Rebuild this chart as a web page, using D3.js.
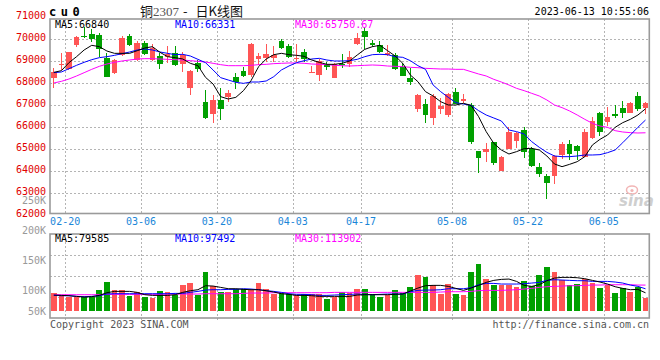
<!DOCTYPE html>
<html>
<head>
<meta charset="utf-8">
<script src="https://cdn.jsdelivr.net/npm/d3@7"></script>
<style>
  body { margin: 0; background: #fff; }
  svg { display: block; }
</style>
</head>
<body>
<div id="chart"></div>
<script>
// trading days shown on the chart
const dates = [
  "02-16","02-17","02-20","02-21","02-22","02-23","02-24","02-27","02-28","03-01",
  "03-02","03-03","03-06","03-07","03-08","03-09","03-10","03-13","03-14","03-15",
  "03-16","03-17","03-20","03-21","03-22","03-23","03-24","03-27","03-28","03-29",
  "03-30","03-31","04-03","04-04","04-06","04-07","04-10","04-11","04-12","04-13",
  "04-14","04-17","04-18","04-19","04-20","04-21","04-24","04-25","04-26","04-27",
  "04-28","05-04","05-05","05-08","05-09","05-10","05-11","05-12","05-15","05-16",
  "05-17","05-18","05-19","05-22","05-23","05-24","05-25","05-26","05-29","05-30",
  "05-31","06-01","06-02","06-05","06-06","06-07","06-08","06-09","06-12"
];

const open = [
  68256,68840,68635,69741,70150,70241,70195,69165,68453,69271,70150,69059,69816,69059,69241,69210,69362,68862,67771,68938,67150,66620,
  67241,67362,68302,68574,68377,69120,69135,69165,69922,69695,69089,69438,68498,68377,68832,68256,68877,68862,69786,70377,69847,69726,69301,69286,68756,68256,66832,67059,66408,
  66847,66559,67620,67211,67014,64923,64893,65332,64029,65029,65393,65877,64999,64211,63802,63787,64741,65241,65166,64635,65499,66665,66256,66604,66862,66665,67423,66862
];
const high = [
  68680,69362,69408,70150,70544,70453,70271,69362,69089,70165,70241,69907,69922,69786,69362,69695,69695,69438,68605,69059,67696,67453,
  67771,67696,68453,68756,69847,69392,69786,69695,70029,69786,69786,69574,68801,69104,68983,68938,69332,69453,70301,70574,69968,69938,69741,69362,68908,68680,67514,67287,67514,
  67317,67574,67771,67514,67090,64923,65302,65332,64696,65999,65802,65999,65120,64362,63877,64741,65347,65423,65196,65908,66483,66711,66938,67014,67211,67165,67620,67165
];
const low = [
  67802,68605,68605,69635,70074,69892,69180,68271,68423,69241,69695,69029,69271,69029,68665,68908,68786,68529,67468,68529,66362,66180,
  66332,67165,67756,68271,68302,68832,68983,68983,69544,69135,68983,68968,68453,68120,68605,68226,68680,68756,69741,69544,69665,69362,69241,68605,68332,67923,66711,66211,66105,
  66589,66484,67059,67090,65241,63938,64438,64287,64029,65029,65044,64590,64211,63756,62741,63423,64544,64514,64514,64635,65453,65605,66059,66408,66408,66635,66756,66589
];
const close = [
  68498,68870,69408,70120,70090,69998,69574,68271,69059,70059,69741,69816,69317,69589,68862,69317,68832,69286,68559,68635,66438,67241,
  66847,67574,68059,68332,69771,69241,69332,69301,69620,69180,69165,69089,68529,69029,68726,68862,68847,69180,70044,70089,69756,69408,69392,68650,68332,68074,67468,66559,67423,
  66968,67514,67059,67302,65347,64620,65029,64393,64635,65802,65756,64893,64241,63877,63453,64696,65241,64787,64923,65802,66287,65802,66483,66514,66665,67120,66817,67120
];

// moving averages as drawn on the chart
const ma5 = [
  68498,68574,68938,69210,69514,69726,69665,69468,69362,69362,69362,69483,69604,69665,69408,69210,69165,69104,68908,68801,68271,67968,
  67392,67287,67362,67665,68120,68756,69104,69301,69362,69301,69271,69226,69059,68953,68862,68862,68908,69014,69286,69544,69665,69726,69483,69241,68908,68377,68074,67620,
  67423,67165,67014,67014,67090,66999,66483,65802,65271,64968,64787,64893,65029,65044,64968,64696,64332,64211,64317,64438,64665,65196,65453,65650,65999,66211,66362,66559,66840
];
const ma10 = [
  68483,68514,68665,68817,68953,69074,69165,69210,69271,69347,69423,69514,69559,69514,69423,69362,69301,69317,69241,69089,68938,68605,
  68256,68150,68044,67998,68059,68059,68105,68302,68605,68786,68938,69029,69104,69135,69059,69014,69014,69029,69089,69210,69301,69317,69301,69210,69180,69029,68801,68635,
  67923,67620,67362,67120,67059,66999,66756,66559,66423,66287,65877,65802,65696,65347,65090,64862,64696,64665,64665,64696,64741,64741,64756,64847,64968,65300,65650,66000,66331
];
const ma30 = [
  68014,68089,68195,68332,68483,68635,68771,68877,68953,69014,69059,69104,69120,69120,69104,69089,69074,69059,69029,68999,68968,68908,
  68847,68801,68801,68801,68817,68847,68862,68893,68908,68923,68923,68908,68877,68862,68847,68817,68801,68786,68801,68817,68832,68817,68786,68771,68756,68726,68711,68680,
  68665,68650,68650,68635,68635,68529,68423,68332,68180,68059,67923,67771,67665,67544,67423,67241,67014,66893,66741,66559,66362,66181,66059,65999,65847,65787,65756,65741,65751
];

const volume = [
  78500,69600,62200,62200,59200,59200,91800,127400,91800,91800,65200,82900,60700,57800,87400,82900,69600,114000,122900,69600,
  173300,109600,81500,82900,94800,94800,91800,122900,94800,74000,77000,74000,69600,74000,74000,74000,51800,62200,81500,78500,
  96300,96300,75500,60700,71100,91800,78500,105200,158500,149600,112600,75500,118500,74000,68100,171800,207300,140700,112600,112600,
  115500,103700,133300,108100,158500,194000,171800,134800,112600,118500,140700,122900,100700,112600,78500,100700,82900,103700,56300
];
const volMa5 = [
  69600,68100,66600,63700,60700,62200,68100,80000,85900,85900,85900,81500,71100,68100,68100,68100,71100,81500,88900,93300,
  111100,109600,103700,97700,97700,94800,93300,93300,88900,82900,75500,72600,68100,68100,66600,63700,63700,63700,63700,63700,
  69600,71100,71100,71100,71100,72600,74100,87400,100700,111100,112600,112600,108100,99200,90300,100700,112600,125900,134800,139200,
  140700,130300,112600,108100,115500,133300,145100,148100,148100,146600,142200,134800,127400,118500,106600,99200,93300,94800,79585
];
const volMa10 = [
  68100,66600,66600,63700,62200,63700,66600,74100,75500,75500,75500,75500,75500,75500,75500,75500,77000,77000,81500,85900,
  91800,93300,93300,94800,94800,97700,96300,93300,88900,85900,81500,75500,72600,72600,71100,68100,68100,69600,71100,72600,
  74100,72600,71100,72600,74100,74100,74100,84400,90300,91800,91800,93300,97700,97700,97700,102200,115500,121400,121400,118500,
  118500,118500,120000,122900,125900,134800,137700,136300,134800,133300,133300,130300,130300,130300,127400,122900,114000,108100,97492
];
const volMa30 = [
  71100,71100,71100,71100,71100,71100,71100,72600,72600,72600,72600,72600,72600,72600,72600,74100,74100,74100,74100,74100,
  75500,75500,75500,75500,75500,77000,78500,78500,78500,80000,80000,80000,80000,80000,80000,80000,80000,81500,81500,81500,
  81500,81500,81500,81500,81500,81500,81500,81500,81500,81500,81500,82900,84400,84400,84400,85900,88900,90300,90300,90300,
  91800,93300,96300,99200,103700,106600,108100,109600,111100,111100,112600,114000,114000,115500,115500,115500,115500,114000,113902
];

const priceTicks = [62000,63000,64000,65000,66000,67000,68000,69000,70000,71000];
const volTicks = [50000,100000,150000,200000,250000];
const dateTicks = ["02-20","03-06","03-20","04-03","04-17","05-08","05-22","06-05"];

const RED = "#ff5555", GREEN = "#00a000", GRID = "#b4b4b4", BORDER = "#9a9a9a";
const mono = "'DejaVu Sans Mono', monospace";

const W = 660, H = 360;
const main = { left: 50, right: 649.3, top: 19, bottom: 213.5 };
const vol = { top: 234, bottom: 318 };

const svg = d3.select("#chart").append("svg")
    .attr("width", W)
    .attr("height", H)
    .style("font-family", mono);

const x = d3.scaleBand()
    .domain(dates)
    .range([main.left, main.right])
    .paddingInner(0.25)
    .paddingOuter(0.125);
const cx = d => x(d) + x.bandwidth() / 2;
const slotLeft = d => x(d) - x.step() * x.paddingInner() / 2;

const y = d3.scaleLinear().domain([62000, 71000]).range([215.3, 17.3]);
const yv = d3.scaleLinear().domain([0, 341000]).range([310.7, 234]);
// the volume labels sit on their own (offset) scale in the original
const yvLabel = d3.scaleLinear().domain([0, 250000]).range([350.7, 200.7]);

const candles = dates.map((d, i) => ({
    date: d, o: open[i], h: high[i], l: low[i], c: close[i], v: volume[i],
    up: close[i] >= open[i]
}));

// ---- grids ----
const grid = svg.append("g")
    .attr("stroke", GRID)
    .attr("stroke-dasharray", "2,2")
    .attr("shape-rendering", "crispEdges");

grid.selectAll(".hg")
    .data(priceTicks.filter(p => p > 62000 && p < 71000))
    .join("line")
    .attr("x1", main.left).attr("x2", main.right)
    .attr("y1", d => Math.round(y(d)) + 0.5)
    .attr("y2", d => Math.round(y(d)) + 0.5);

grid.selectAll(".vg")
    .data(dateTicks)
    .join("line")
    .attr("x1", d => Math.round(slotLeft(d)) + 0.5)
    .attr("x2", d => Math.round(slotLeft(d)) + 0.5)
    .attr("y1", main.top).attr("y2", main.bottom);

grid.selectAll(".vhg")
    .data([1, 2, 3])
    .join("line")
    .attr("x1", main.left).attr("x2", main.right)
    .attr("y1", d => Math.round(vol.top + (vol.bottom - vol.top) * d / 4) + 0.5)
    .attr("y2", d => Math.round(vol.top + (vol.bottom - vol.top) * d / 4) + 0.5);

grid.selectAll(".vvg")
    .data(dateTicks)
    .join("line")
    .attr("x1", d => Math.round(slotLeft(d)) + 0.5)
    .attr("x2", d => Math.round(slotLeft(d)) + 0.5)
    .attr("y1", vol.top).attr("y2", vol.bottom + 3);

// ---- watermark ----
const wm = svg.append("g").attr("transform", "translate(619,186)");
wm.append("ellipse").attr("cx", 13).attr("cy", 4).attr("rx", 5.5).attr("ry", 4)
    .attr("fill", "none").attr("stroke", "#f2b5b5").attr("stroke-width", 1.5);
wm.append("circle").attr("cx", 13).attr("cy", 4.5).attr("r", 1.6).attr("fill", "#f2b5b5");
wm.append("text").attr("x", 0).attr("y", 20)
    .attr("font-family", "'DejaVu Sans', sans-serif")
    .attr("font-size", 15).attr("font-style", "italic").attr("font-weight", "bold")
    .attr("fill", "#cfcfcf").text("sina");

// ---- candles ----
const cg = svg.append("g").attr("shape-rendering", "crispEdges");
cg.selectAll(".wick")
    .data(candles)
    .join("line")
    .attr("x1", d => Math.floor(cx(d.date)) + 0.5)
    .attr("x2", d => Math.floor(cx(d.date)) + 0.5)
    .attr("y1", d => y(d.h))
    .attr("y2", d => y(d.l))
    .attr("stroke", d => d.up ? RED : GREEN);

cg.selectAll(".body")
    .data(candles)
    .join("rect")
    .attr("x", d => x(d.date))
    .attr("width", x.bandwidth())
    .attr("y", d => y(Math.max(d.o, d.c)))
    .attr("height", d => Math.max(1, Math.abs(y(d.o) - y(d.c))))
    .attr("fill", d => d.up ? RED : GREEN);

// ---- volume bars ----
svg.append("g").attr("shape-rendering", "crispEdges")
    .selectAll("rect")
    .data(candles)
    .join("rect")
    .attr("x", d => x(d.date))
    .attr("width", x.bandwidth())
    .attr("y", d => yv(d.v))
    .attr("height", d => yv(0) - yv(d.v))
    .attr("fill", d => d.up ? RED : GREEN);

// ---- moving average lines ----
const lineP = d3.line().x((d, i) => cx(dates[i])).y(d => y(d));
const lineV = d3.line().x((d, i) => cx(dates[i])).y(d => yv(d));
const maSets = [
    { price: ma30, vol: volMa30, color: "#ff00ff" },
    { price: ma10, vol: volMa10, color: "#0000ff" },
    { price: ma5, vol: volMa5, color: "#000000" }
];
maSets.forEach(s => {
    svg.append("path").attr("d", lineP(s.price))
        .attr("fill", "none").attr("stroke", s.color).attr("stroke-width", 1);
    svg.append("path").attr("d", lineV(s.vol))
        .attr("fill", "none").attr("stroke", s.color).attr("stroke-width", 1);
});

// ---- panel borders ----
const borders = svg.append("g")
    .attr("fill", "none").attr("stroke", BORDER).attr("stroke-width", 1.6);
borders.append("rect")
    .attr("x", main.left).attr("y", main.top)
    .attr("width", main.right - main.left).attr("height", main.bottom - main.top);
borders.append("rect")
    .attr("x", main.left).attr("y", vol.top)
    .attr("width", main.right - main.left).attr("height", vol.bottom - vol.top);

// ---- axis labels ----
svg.append("g")
    .selectAll("text")
    .data(volTicks)
    .join("text")
    .attr("x", 46)
    .attr("y", d => Math.min(yvLabel(d), 311) + 3.6)
    .attr("text-anchor", "end")
    .attr("font-size", 10)
    .attr("fill", "#999")
    .text(d => (d / 1000) + "K");

svg.append("g")
    .selectAll("text")
    .data(priceTicks)
    .join("text")
    .attr("x", 46)
    .attr("y", d => y(d) + 1.2)
    .attr("text-anchor", "end")
    .attr("font-size", 10)
    .attr("fill", "#e00000")
    .text(d => d);

svg.append("g")
    .selectAll("text")
    .data(dateTicks)
    .join("text")
    .attr("x", d => slotLeft(d))
    .attr("y", 225)
    .attr("text-anchor", "middle")
    .attr("font-size", 10)
    .attr("fill", "#1a86d8")
    .text(d => d);

// ---- legends ----
const legend = (yy, items) => {
    svg.append("g").selectAll("text")
        .data(items)
        .join("text")
        .attr("x", d => d.x)
        .attr("y", yy)
        .attr("font-size", 10)
        .attr("fill", d => d.color)
        .text(d => d.label);
};
legend(27.5, [
    { x: 55, color: "#000", label: "MA5:" + ma5[ma5.length - 1] },
    { x: 175, color: "#0000ff", label: "MA10:" + ma10[ma10.length - 1] },
    { x: 295, color: "#ff00ff", label: "MA30:65750.67" }
]);
legend(242, [
    { x: 55, color: "#000", label: "MA5:" + volMa5[volMa5.length - 1] },
    { x: 175, color: "#0000ff", label: "MA10:" + volMa10[volMa10.length - 1] },
    { x: 295, color: "#ff00ff", label: "MA30:" + volMa30[volMa30.length - 1] }
]);

// ---- titles / footer ----
svg.append("text")
    .attr("x", 49).attr("y", 15.5)
    .attr("font-size", 12).attr("font-weight", "bold")
    .attr("letter-spacing", 4.5)
    .attr("fill", "#000")
    .text("cu0");

const title = svg.append("text")
    .attr("y", 16)
    .attr("font-family", "'Noto Sans CJK SC', sans-serif")
    .attr("font-size", 13)
    .attr("fill", "#111");
title.append("tspan").attr("x", 140).text("铜");
title.append("tspan").attr("fill", "#555").attr("font-family", "'Liberation Serif', serif").text("2307");
title.append("tspan").attr("x", 183).text("-");
title.append("tspan").attr("x", 195.5).text("日K线图");

svg.append("text")
    .attr("x", 649).attr("y", 15)
    .attr("text-anchor", "end")
    .attr("font-size", 10)
    .attr("fill", "#000")
    .text("2023-06-13 10:55:06");

svg.append("text")
    .attr("x", 50).attr("y", 327.5)
    .attr("font-size", 10)
    .attr("fill", "#555")
    .text("Copyright 2023 SINA.COM");

svg.append("text")
    .attr("x", 649).attr("y", 327.5)
    .attr("text-anchor", "end")
    .attr("font-size", 10)
    .attr("fill", "#555")
    .text("http://finance.sina.com.cn");
</script>
</body>
</html>
